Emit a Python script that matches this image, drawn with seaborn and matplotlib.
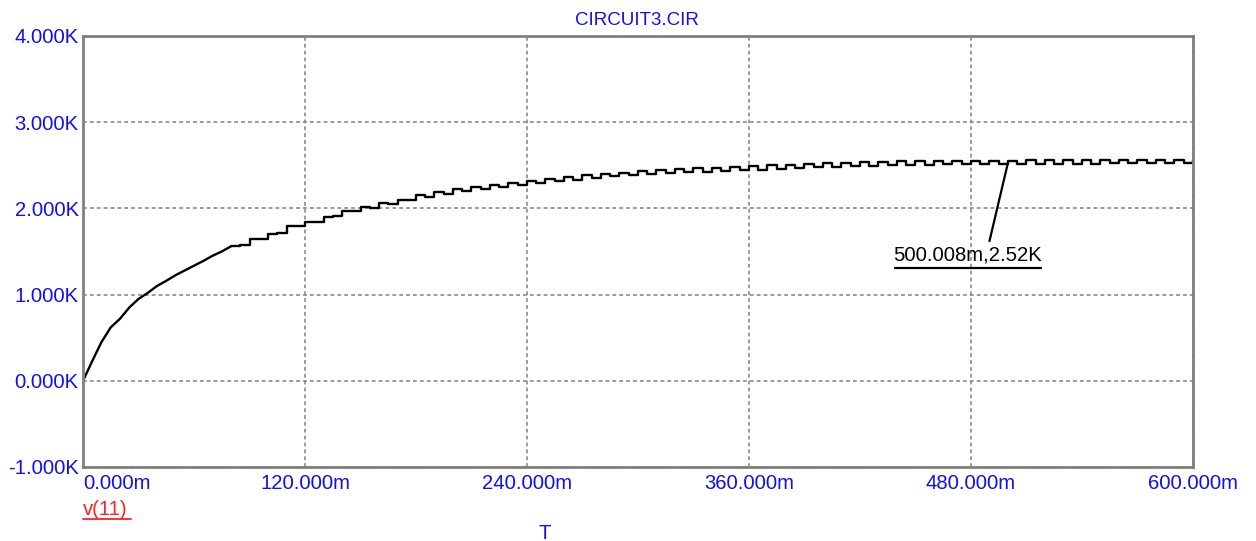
import numpy as np
import pandas as pd
import matplotlib
matplotlib.use("Agg")
import matplotlib.pyplot as plt
import seaborn as sns

t_ms = np.arange(0, 605, 5)
v11 = [0, 230, 450, 620, 720, 850, 950, 1020, 1100, 1160,
       1225, 1280, 1335, 1390, 1450, 1500, 1560, 1570, 1640, 1640,
       1705, 1715, 1790, 1790, 1840, 1840, 1905, 1915, 1975, 1970,
       2020, 2010, 2060, 2050, 2100, 2095, 2150, 2135, 2185, 2165,
       2220, 2200, 2250, 2225, 2272, 2250, 2295, 2270, 2317, 2295,
       2343, 2315, 2367, 2335, 2386, 2355, 2401, 2370, 2415, 2385,
       2429, 2395, 2443, 2410, 2455, 2420, 2463, 2425, 2471, 2435,
       2479, 2445, 2490, 2450, 2498, 2460, 2506, 2465, 2513, 2475,
       2524, 2485, 2532, 2490, 2536, 2495, 2540, 2500, 2544, 2505,
       2548, 2505, 2550, 2510, 2552, 2510, 2553, 2512, 2554, 2512,
       2555, 2515, 2556, 2515, 2557, 2518, 2558, 2518, 2560, 2520,
       2562, 2522, 2562, 2522, 2562, 2522, 2563, 2525, 2563, 2525,
       2560]

x_ticks = [0, 120, 240, 360, 480, 600]
x_labels = ["0.000m", "120.000m", "240.000m", "360.000m", "480.000m", "600.000m"]
y_ticks = [-1000, 0, 1000, 2000, 3000, 4000]
y_labels = ["-1.000K", "0.000K", "1.000K", "2.000K", "3.000K", "4.000K"]

cursor_t = 500.008
cursor_v = 2530
cursor_label = "500.008m,2.52K"

df = pd.DataFrame({"T": t_ms, "v(11)": v11})
early = df[df["T"] <= 80]
late = df[df["T"] >= 80]

sns.set_style("white")
plt.rcParams["font.family"] = ["Liberation Sans", "DejaVu Sans"]

fig = plt.figure(figsize=(12.56, 5.41), dpi=100)
ax = fig.add_axes([0.0661, 0.1368, 0.8837, 0.7967])

# fast initial rise drawn straight, then the stepped part with its ripple
sns.lineplot(data=early, x="T", y="v(11)", ax=ax, color="black", linewidth=1.7,
             legend=False)
sns.lineplot(data=late, x="T", y="v(11)", ax=ax, color="black", linewidth=1.7,
             drawstyle="steps-post", legend=False)

ax.set_xlim(0, 600)
ax.set_ylim(-1000, 4000)
ax.set_xticks(x_ticks)
ax.set_yticks(y_ticks)
ax.set_xticklabels(x_labels)
ax.set_yticklabels(y_labels)
ax.tick_params(length=0, labelcolor="#1010F0", labelsize=14.6, pad=3)
ax.tick_params(axis="x", pad=5)
ax.get_xticklabels()[0].set_horizontalalignment("left")
ax.grid(True, color="#808080", linestyle=(0, (2.5, 2)), linewidth=1.1)
for s in ax.spines.values():
    s.set_color("#808080")
    s.set_linewidth(2)
ax.set_xlabel("")
ax.set_ylabel("")

fig.text(0.5075, 0.962, "CIRCUIT3.CIR", color="#1010F0", fontsize=13.5,
         ha="center", va="center")
fig.text(0.0661, 0.058, "v(11)", color="#FF2020", fontsize=14.6,
         ha="left", va="center")
fig.add_artist(plt.Line2D([0.0661, 0.104], [0.040, 0.040],
                          color="#FF2020", linewidth=1.3))
fig.text(0.434, 0.013, "T", color="#1010F0", fontsize=14.6,
         ha="center", va="center")

# cursor annotation
ax.text(478, 1455, cursor_label, fontsize=14.6, color="black",
        ha="center", va="center")
ax.plot([439, 518], [1310, 1310], color="black", linewidth=1.6)
ax.plot([490, cursor_t], [1620, cursor_v], color="black", linewidth=1.6)

fig.savefig("out.png", dpi=100)
